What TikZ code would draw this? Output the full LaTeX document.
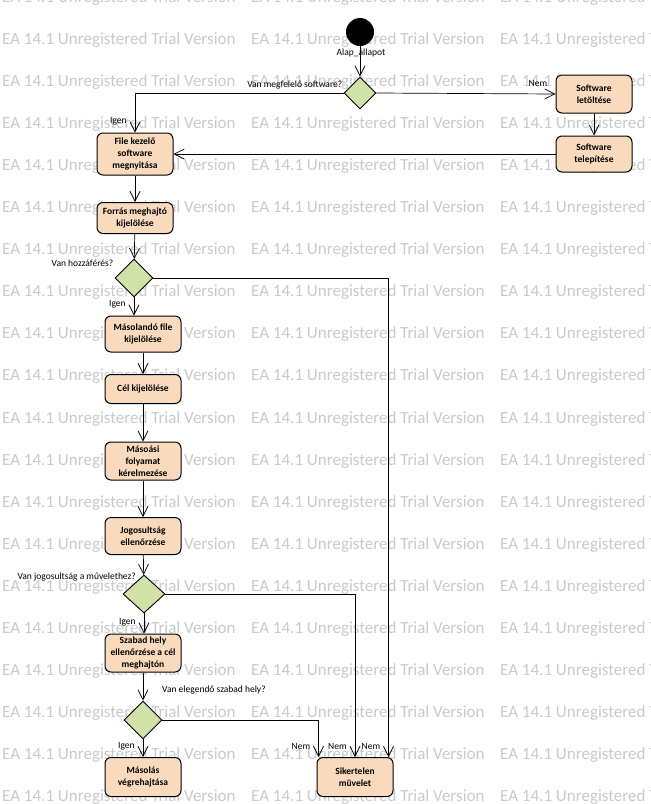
\documentclass[tikz,border=0pt]{standalone}
\usepackage{fontspec}
\setmainfont{Carlito}
\usetikzlibrary{shapes.geometric,arrows.meta}
\definecolor{actfill}{RGB}{250,218,188}
\definecolor{decfill}{RGB}{207,226,168}
\definecolor{wmgray}{RGB}{202,202,202}

\begin{document}
\begin{tikzpicture}[x=1pt, y=-1pt,
    act/.style={draw, line width=1pt, rounded corners=6pt, fill=actfill, minimum width=76pt,
      align=center, inner sep=2pt, font=\fontsize{9.5}{12}\selectfont\bfseries},
    dec/.style={draw, line width=0.9pt, diamond, aspect=1, fill=decfill, minimum size=38pt, inner sep=0pt},
    flow/.style={-{Straight Barb[length=10pt,width=10pt]}, line width=0.7pt},
    guard/.style={font=\fontsize{9.5}{11}\selectfont, inner sep=1pt},
    lbl/.style={guard, anchor=south east, xshift=-7pt, yshift=6pt},
    wm/.style={anchor=west, text=wmgray, font=\fontsize{17}{17}\selectfont, inner sep=0pt}]
  \useasboundingbox (0,0) rectangle (651,804);

  % watermark
  \foreach \r in {0,...,19}
    \foreach \c in {0,1,2}
      \node[wm] at (2+249*\c, -2+42.06*\r) {EA 14.1 Unregistered Trial Version};

  % start and first check
  \node[circle, fill=black, minimum size=28pt, inner sep=0pt] (start) at (360,32) {};
  \node[guard] (startlbl) at (361,53) {Alap\_állapot};
  \node[dec, minimum size=32pt] (d1) at (360,93) {};
  \node[guard, anchor=south east] (g1) at ([yshift=3pt]d1.west) {Van megfelelő software?};

  % install branch
  \node[act, minimum height=38pt] (letolt) at (594,94) {Software\\letöltése};
  \node[act, minimum height=36pt] (telepit) at (594,154) {Software\\telepítése};

  % main column
  \node[act, minimum height=42pt] (fkezelo) at (135,154) {File kezelő\\software\\megnyitása};
  \node[act, minimum height=31pt] (forras) at (135,218) {Forrás meghajtó\\kijelölése};
  \node[dec] (d2) at (134,278) {};
  \node[guard, anchor=south east] (g2) at ([yshift=10pt]d2.west) {Van hozzáférés?};
  \node[act, minimum height=36pt] (masolando) at (143,334) {Másolandó file\\kijelölése};
  \node[act, minimum height=29pt] (cel) at (143,389) {Cél kijelölése};
  \node[act, minimum height=38pt] (masoasi) at (143,461) {Másoási\\folyamat\\kérelmezése};
  \node[act, minimum height=37pt] (jogos) at (143,536) {Jogosultság\\ellenőrzése};
  \node[dec, minimum width=42pt] (d3) at (144,594) {};
  \node[guard, anchor=south east] (g3) at (137,582) {Van jogosultság a művelethez?};
  \node[act, minimum height=38pt] (szabad) at (143,653) {Szabad hely\\ellenőrzése a cél\\meghajtón};
  \node[dec] (d4) at (143,720) {};
  \node[guard, anchor=west] (g4) at (161,690) {Van elegendő szabad hely?};
  \node[act, minimum height=39pt] (masolas) at (143,777) {Másolás\\végrehajtása};
  \node[act, minimum height=39pt] (sikertelen) at (355,777) {Sikertelen\\müvelet};

  % flows
  \draw[flow] (start) -- (d1);
  \draw[flow] (d1.west) -| (fkezelo.north) node[lbl, pos=1] {Igen};
  \draw[flow] (d1.east) -- (letolt.west) node[lbl, pos=1] {Nem};
  \draw[flow] (letolt) -- (telepit);
  \draw[flow] (telepit) -- (fkezelo);
  \draw[flow] (fkezelo) -- (forras);
  \draw[flow] (forras) -- (d2);
  \draw[flow] (d2.south) -- (d2.south |- masolando.north) node[lbl, pos=1] {Igen};
  \draw[flow] (d2.east) -| ([xshift=-5pt]sikertelen.north east) node[lbl, pos=1] {Nem};
  \draw[flow] (masolando) -- (cel);
  \draw[flow] (cel) -- (masoasi);
  \draw[flow] (masoasi) -- (jogos);
  \draw[flow] (jogos) -- (d3);
  \draw[flow] (d3.south) -- (d3.south |- szabad.north) node[lbl, pos=1] {Igen};
  \draw[flow] (d3.east) -| (sikertelen.north) node[lbl, pos=1] {Nem};
  \draw[flow] (szabad) -- (d4);
  \draw[flow] (d4) -- (masolas) node[lbl, pos=1] {Igen};
  \draw[flow] (d4.east) -| ([xshift=2pt]sikertelen.north west) node[lbl, pos=1] {Nem};
\end{tikzpicture}
\end{document}
